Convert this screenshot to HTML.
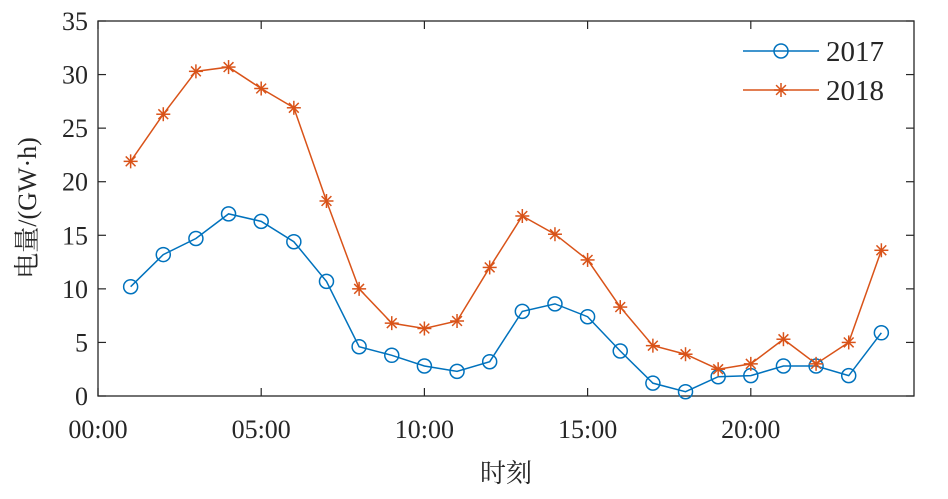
<!DOCTYPE html>
<html><head><meta charset="utf-8"><style>
body{margin:0;background:#fff;}
svg text{font-family:"Liberation Serif","Noto Serif CJK SC",serif;fill:#262626;}
</style></head><body>
<svg id="chart" width="948" height="494" xmlns="http://www.w3.org/2000/svg">
<g id="grid"></g>
<g id="series"></g>
</svg>
<script>
const hours = [1,2,3,4,5,6,7,8,9,10,11,12,13,14,15,16,17,18,19,20,21,22,23,24];
const values2017 = [10.2,13.2,14.7,17.0,16.3,14.4,10.7,4.6,3.8,2.8,2.3,3.2,7.9,8.6,7.4,4.2,1.2,0.4,1.8,1.9,2.8,2.8,1.9,5.9];
const values2018 = [21.9,26.3,30.3,30.7,28.7,26.9,18.2,10.0,6.8,6.3,7.0,12.0,16.8,15.1,12.7,8.3,4.7,3.9,2.5,3.0,5.3,3.0,5.0,13.6];
const xTicks = [0,5,10,15,20];
const xTickLabels = ["00:00","05:00","10:00","15:00","20:00"];
const yTicks = [0,5,10,15,20,25,30,35];

const L=98,R=914,T=21,B=396,XMAX=25,YMAX=35;
const sx=v=>L+(R-L)*v/XMAX, sy=v=>B-(B-T)*v/YMAX;
const NS="http://www.w3.org/2000/svg";
const svg=document.getElementById('chart');
function mk(tag,attrs,parent){const e=document.createElementNS(NS,tag);for(const k in attrs)e.setAttribute(k,attrs[k]);(parent||svg).appendChild(e);return e;}

const frame=mk('rect',{x:L,y:T,width:R-L,height:B-T,fill:'none',stroke:'#262626','stroke-width':1.3});



xTicks.forEach((v,i)=>{
  const x=sx(v);
  const t1=mk('line',{x1:x,x2:x,y1:B,y2:B-8,stroke:'#262626','stroke-width':1.2});
  
  
  const t2=mk('line',{x1:x,x2:x,y1:T,y2:T+8,stroke:'#262626','stroke-width':1.2});
  
  
  const tx=mk('text',{x:x,y:B+42,'text-anchor':'middle','font-size':26});
  tx.textContent=xTickLabels[i];
  
  
});
yTicks.forEach(v=>{
  const y=sy(v);
  const t1=mk('line',{x1:L,x2:L+8,y1:y,y2:y,stroke:'#262626','stroke-width':1.2});
  
  
  const t2=mk('line',{x1:R,x2:R-8,y1:y,y2:y,stroke:'#262626','stroke-width':1.2});
  
  
  const tx=mk('text',{x:L-10,y:y+9,'text-anchor':'end','font-size':26});
  tx.textContent=v;
  
  
});
const xt=mk('text',{x:(L+R)/2,y:482,'text-anchor':'middle','font-size':26});
xt.textContent='时刻';


const yt=mk('text',{x:0,y:0,'text-anchor':'middle','font-size':26,transform:'translate(36,208) rotate(-90)'});
yt.textContent='电量/(GW·h)';



const C17='#0072BD',C18='#D95319';
function circle(x,y,parent){const c=mk('circle',{cx:x,cy:y,r:7,fill:'none',stroke:C17,'stroke-width':1.5},parent);}
function star(x,y,parent){const g=mk('g',{stroke:C18,'stroke-width':1.5},parent);
  const r=7;mk('line',{x1:x-r,x2:x+r,y1:y,y2:y},g);mk('line',{x1:x,x2:x,y1:y-r,y2:y+r},g);
  const d=r*0.7;mk('line',{x1:x-d,x2:x+d,y1:y-d,y2:y+d},g);mk('line',{x1:x-d,x2:x+d,y1:y+d,y2:y-d},g);}

const l17=mk('polyline',{points:hours.map((h,i)=>sx(h)+','+sy(values2017[i])).join(' '),fill:'none',stroke:C17,'stroke-width':1.5});


const l18=mk('polyline',{points:hours.map((h,i)=>sx(h)+','+sy(values2018[i])).join(' '),fill:'none',stroke:C18,'stroke-width':1.5});


hours.forEach((h,i)=>circle(sx(h),sy(values2017[i])));
hours.forEach((h,i)=>star(sx(h),sy(values2018[i])));

// legend
const lg=mk('g',{});


[['2017',C17,51,circle],['2018',C18,90,star]].forEach(([lab,col,y,fn])=>{
  const ln=mk('line',{x1:743,x2:819,y1:y,y2:y,stroke:col,'stroke-width':1.5},lg);
  
  
  fn(781,y,lg);
  const t=mk('text',{x:826,y:y+10,'font-size':29},lg);
  t.textContent=lab;
  
  
});
</script>
</body></html>
